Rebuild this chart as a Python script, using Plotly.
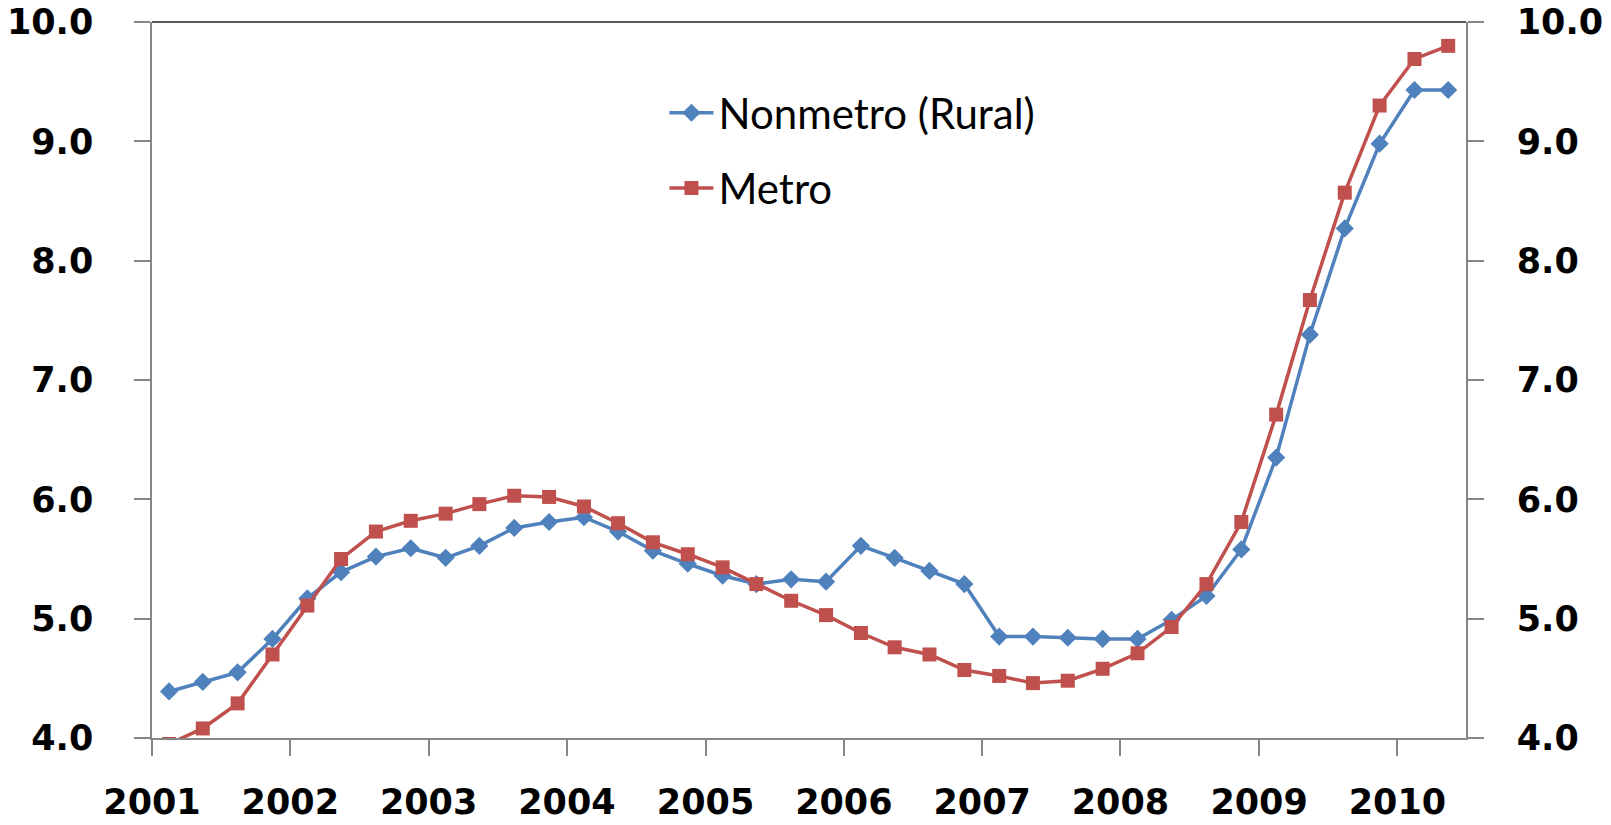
import plotly.graph_objects as go

quarters = [
    "2001-02-15", "2001-05-15", "2001-08-15", "2001-11-15",
    "2002-02-15", "2002-05-15", "2002-08-15", "2002-11-15",
    "2003-02-15", "2003-05-15", "2003-08-15", "2003-11-15",
    "2004-02-15", "2004-05-15", "2004-08-15", "2004-11-15",
    "2005-02-15", "2005-05-15", "2005-08-15", "2005-11-15",
    "2006-02-15", "2006-05-15", "2006-08-15", "2006-11-15",
    "2007-02-15", "2007-05-15", "2007-08-15", "2007-11-15",
    "2008-02-15", "2008-05-15", "2008-08-15", "2008-11-15",
    "2009-02-15", "2009-05-15", "2009-08-15", "2009-11-15",
    "2010-02-15", "2010-05-15",
]

nonmetro = [
    4.39, 4.47, 4.55, 4.83, 5.17, 5.39, 5.52, 5.59, 5.51, 5.61, 5.76, 5.81,
    5.85, 5.73, 5.57, 5.46, 5.36, 5.29, 5.33, 5.31, 5.61, 5.51, 5.40, 5.29,
    4.85, 4.85, 4.84, 4.83, 4.83, 4.99, 5.19, 5.58, 6.35, 7.38, 8.27, 8.98,
    9.43, 9.43,
]

metro = [
    3.95, 4.08, 4.29, 4.70, 5.11, 5.50, 5.73, 5.82, 5.88, 5.96, 6.03, 6.02,
    5.94, 5.80, 5.64, 5.54, 5.43, 5.29, 5.15, 5.03, 4.88, 4.76, 4.70, 4.57,
    4.52, 4.46, 4.48, 4.58, 4.71, 4.93, 5.29, 5.81, 6.71, 7.67, 8.57, 9.30,
    9.69, 9.80,
]

y_ticks = [4, 5, 6, 7, 8, 9, 10]
y_range = [4, 10]
x_range = ["2001-01-01", "2010-07-01"]

BLUE = "#4F81BD"
RED = "#C0504D"
AXIS = "#868686"
TICK_FONT = dict(family="DejaVu Sans", size=35, color="#000000", weight="bold")
LEG_FONT = dict(family="Lato", size=42, color="#000000")

fig = go.Figure()
fig.add_trace(go.Scatter(
    x=quarters, y=nonmetro, name="Nonmetro (Rural)", mode="lines+markers",
    line=dict(color=BLUE, width=3.5),
    marker=dict(symbol="diamond", size=14, color=BLUE),
    legend="legend",
))
fig.add_trace(go.Scatter(
    x=quarters, y=metro, name="Metro", mode="lines+markers",
    line=dict(color=RED, width=3.5),
    marker=dict(symbol="square", size=14, color=RED),
    legend="legend2",
))
# right-hand axis carries the same scale
fig.add_trace(go.Scatter(
    x=[quarters[0]], y=[metro[0]], yaxis="y2", mode="markers",
    marker=dict(opacity=0), showlegend=False, hoverinfo="skip",
))

fig.update_layout(
    width=1611, height=825,
    margin=dict(l=152, r=145, t=22, b=87),
    paper_bgcolor="white", plot_bgcolor="white",
    xaxis=dict(
        type="date", range=x_range, tick0="2001-01-01", dtick="M12",
        tickformat="%Y", showgrid=False, zeroline=False, automargin=False,
        showline=True, linecolor=AXIS, linewidth=1.5,
        ticks="outside", ticklen=16, tickcolor=AXIS, tickwidth=1.5,
        tickfont=TICK_FONT, ticklabelstandoff=16,
    ),
    yaxis=dict(
        range=y_range, tickvals=y_ticks, tickformat=".1f", automargin=False,
        showgrid=False, zeroline=False,
        showline=True, linecolor=AXIS, linewidth=1.5,
        ticks="outside", ticklen=16, tickcolor=AXIS, tickwidth=1.5,
        tickfont=TICK_FONT, ticklabelstandoff=34, ticklabeloverflow="allow",
    ),
    yaxis2=dict(
        range=y_range, tickvals=y_ticks, tickformat=".1f", automargin=False,
        overlaying="y", side="right", anchor="x",
        showgrid=False, zeroline=False,
        showline=True, linecolor=AXIS, linewidth=1.5,
        ticks="outside", ticklen=16, tickcolor=AXIS, tickwidth=1.5,
        tickfont=TICK_FONT, ticklabelstandoff=26, ticklabeloverflow="allow",
    ),
    legend=dict(
        x=0.39, y=0.873, xanchor="left", yanchor="middle",
        font=LEG_FONT, bgcolor="rgba(0,0,0,0)", itemwidth=44,
    ),
    legend2=dict(
        x=0.39, y=0.768, xanchor="left", yanchor="middle",
        font=LEG_FONT, bgcolor="rgba(0,0,0,0)", itemwidth=44,
    ),
    shapes=[dict(
        type="line", xref="paper", yref="paper", x0=0, x1=1, y0=1, y1=1,
        line=dict(color="#595959", width=2),
    )],
    showlegend=True,
)

fig.write_html(
    "out.html",
    config={"displayModeBar": False},
    post_script="document.body.style.margin='0';document.body.style.overflow='hidden';",
)
